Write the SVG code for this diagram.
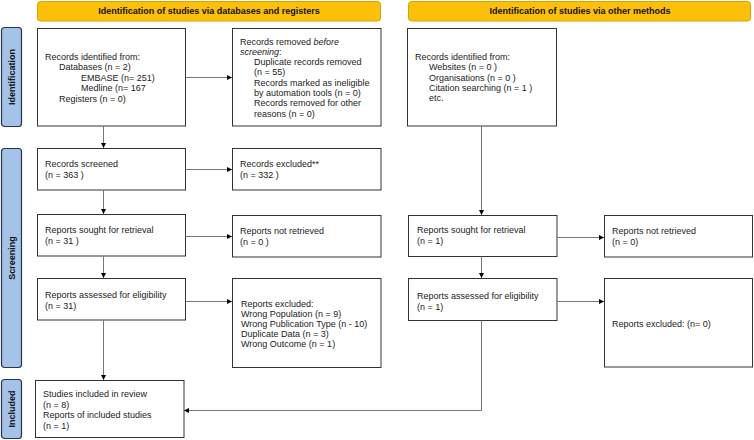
<svg xmlns="http://www.w3.org/2000/svg" width="754" height="440" viewBox="0 0 754 440">
<style>
text{font-family:"Liberation Sans",Arial,sans-serif;font-size:9px;fill:#222}
.hdr{fill:#fcc00a;stroke:#d8a404;stroke-width:1}
.side{fill:#a5c3e9;stroke:#2a3548;stroke-width:1.2}
.box{fill:#fff;stroke:#333;stroke-width:1}
.ht{font-weight:bold;font-size:9px;text-anchor:middle;fill:#111}
.st{font-weight:bold;font-size:9px;text-anchor:middle;fill:#111}
.c{fill:none;stroke:#777;stroke-width:1}
</style>
<defs>
<marker id="ah" viewBox="0 0 10 10" refX="10" refY="5" markerWidth="5" markerHeight="5" orient="auto" markerUnits="userSpaceOnUse"><path d="M0,0 L10,5 L0,10 z" fill="#000"/></marker>
</defs>
<rect width="754" height="440" fill="#fff"/>
<g id="header-db"><rect class="hdr" x="37.5" y="1.5" width="343" height="19.5" rx="3"/><text class="ht" x="209" y="14.3">Identification of studies via databases and registers</text></g>
<g id="header-other"><rect class="hdr" x="408.5" y="1.5" width="342" height="19.5" rx="3"/><text class="ht" x="580" y="14.3">Identification of studies via other methods</text></g>
<g id="side-identification"><rect class="side" x="1.5" y="27.5" width="20" height="99" rx="3"/><text class="st" transform="translate(14.8,77) rotate(-90)">Identification</text></g>
<g id="side-screening"><rect class="side" x="1.5" y="148.5" width="20" height="219" rx="3"/><text class="st" transform="translate(14.8,258) rotate(-90)">Screening</text></g>
<g id="side-included"><rect class="side" x="1.5" y="379.5" width="20" height="59" rx="3"/><text class="st" transform="translate(14.8,409) rotate(-90)">Included</text></g>

<g id="records-identified"><rect class="box" x="37.5" y="28.5" width="148" height="97.5"/>
<text x="45" y="60">Records identified from:</text>
<text x="59" y="70.4">Databases (n = 2)</text>
<text x="81" y="80.8">EMBASE (n= 251)</text>
<text x="81" y="91.2">Medline (n= 167</text>
<text x="59" y="101.6">Registers (n = 0)</text></g>

<g id="records-removed"><rect class="box" x="232.5" y="28.5" width="148.5" height="97.5"/>
<text x="240" y="44.5">Records removed <tspan font-style="italic">before</tspan></text>
<text x="240" y="54.8"><tspan font-style="italic">screening</tspan>:</text>
<text x="254" y="65.1">Duplicate records removed</text>
<text x="254" y="75.4">(n = 55)</text>
<text x="254" y="85.7">Records marked as ineligible</text>
<text x="254" y="96">by automation tools (n = 0)</text>
<text x="254" y="106.3">Records removed for other</text>
<text x="254" y="116.6">reasons (n = 0)</text></g>

<g id="other-records"><rect class="box" x="407.5" y="28.5" width="149" height="97.5"/>
<text x="415" y="60">Records identified from:</text>
<text x="429" y="70.3">Websites (n = 0 )</text>
<text x="429" y="80.6">Organisations (n = 0 )</text>
<text x="429" y="90.9">Citation searching (n = 1 )</text>
<text x="429" y="101.2">etc.</text></g>

<g id="records-screened"><rect class="box" x="37.5" y="148.5" width="148" height="41.5"/>
<text x="45" y="167.2">Records screened</text><text x="45" y="177.7">(n = 363 )</text></g>
<g id="records-excluded"><rect class="box" x="232.5" y="148.5" width="148.5" height="41.5"/>
<text x="240" y="167.2">Records excluded**</text><text x="240" y="177.7">(n = 332 )</text></g>

<g id="reports-sought"><rect class="box" x="37.5" y="214.5" width="148" height="41.5"/>
<text x="45" y="233.2">Reports sought for retrieval</text><text x="45" y="243.7">(n = 31 )</text></g>
<g id="reports-not-retrieved"><rect class="box" x="232.5" y="215.5" width="148.5" height="41.5"/>
<text x="240" y="234.2">Reports not retrieved</text><text x="240" y="244.7">(n = 0 )</text></g>

<g id="reports-assessed"><rect class="box" x="37.5" y="278.5" width="148" height="41.5"/>
<text x="45" y="298.2">Reports assessed for eligibility</text><text x="45" y="308.7">(n = 31)</text></g>
<g id="reports-excluded"><rect class="box" x="232.5" y="278.5" width="148.5" height="89"/>
<text x="241" y="306.5">Reports excluded:</text>
<text x="241" y="316.7">Wrong Population (n = 9)</text>
<text x="241" y="326.9">Wrong Publication Type (n - 10)</text>
<text x="241" y="337.1">Duplicate Data (n = 3)</text>
<text x="241" y="347.3">Wrong Outcome (n = 1)</text></g>

<g id="studies-included"><rect class="box" x="35.5" y="380.5" width="148.5" height="57"/>
<text x="43" y="397.2">Studies included in review</text>
<text x="43" y="407.7">(n = 8)</text>
<text x="43" y="418.2">Reports of included studies</text>
<text x="43" y="428.7">(n = 1)</text></g>

<g id="other-sought"><rect class="box" x="408.5" y="215.5" width="148.5" height="41"/>
<text x="417" y="233.2">Reports sought for retrieval</text><text x="417" y="243.7">(n = 1)</text></g>
<g id="other-not-retrieved"><rect class="box" x="604.5" y="215.5" width="148" height="41.5"/>
<text x="612" y="234.2">Reports not retrieved</text><text x="612" y="244.7">(n = 0)</text></g>
<g id="other-assessed"><rect class="box" x="408.5" y="278.5" width="148.5" height="42"/>
<text x="417" y="299.2">Reports assessed for eligibility</text><text x="417" y="309.7">(n = 1)</text></g>
<g id="other-excluded"><rect class="box" x="604.5" y="278.5" width="148" height="88.5"/>
<text x="612" y="327.2">Reports excluded: (n= 0)</text></g>

<g id="connectors">
<path class="c" d="M103.5,126 V148" marker-end="url(#ah)"/>
<path class="c" d="M185.5,77.5 H232" marker-end="url(#ah)"/>
<path class="c" d="M185.5,169.5 H232" marker-end="url(#ah)"/>
<path class="c" d="M103.5,190 V214" marker-end="url(#ah)"/>
<path class="c" d="M185.5,236.5 H232" marker-end="url(#ah)"/>
<path class="c" d="M103.5,256 V278" marker-end="url(#ah)"/>
<path class="c" d="M185.5,301.5 H232" marker-end="url(#ah)"/>
<path class="c" d="M103.5,320 V380" marker-end="url(#ah)"/>
<path class="c" d="M481.5,126 V215" marker-end="url(#ah)"/>
<path class="c" d="M557,237.5 H604" marker-end="url(#ah)"/>
<path class="c" d="M481.5,256.5 V278" marker-end="url(#ah)"/>
<path class="c" d="M557,301.5 H604" marker-end="url(#ah)"/>
<path class="c" d="M481.5,320.5 V410.5 H184" marker-end="url(#ah)"/>
</g>
</svg>
